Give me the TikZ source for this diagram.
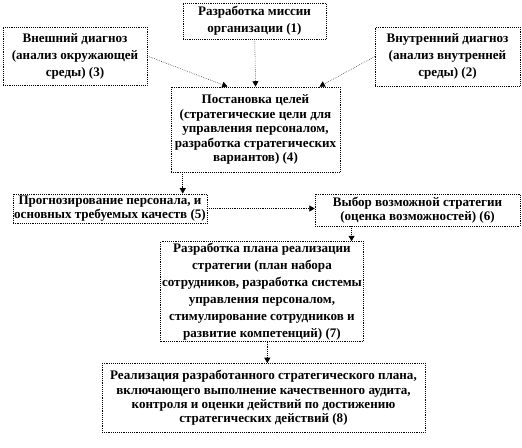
\documentclass[tikz,border=0pt]{standalone}
\usepackage{fontspec}
\setmainfont{Liberation Serif}
\usetikzlibrary{arrows.meta}

\begin{document}
\begin{tikzpicture}[
    x=0.75pt, y=-0.75pt,
    stage/.style={draw, densely dotted, inner sep=1pt, align=center,
                  minimum width=#1*0.75pt,
                  font=\bfseries\fontsize{9.8}{10.8}\selectfont},
    loose/.style={font=\bfseries\fontsize{9.8}{12.8}\selectfont},
    arr/.style={densely dotted, -{Triangle[length=4pt, width=4.5pt]}},
  ]
  \useasboundingbox (0,0) rectangle (522,447);

  \node[stage=143, loose, minimum height=27pt] (mission) at (254.5, 21) {Разработка миссии\\организации (1)};
  \node[stage=144, loose, minimum height=43.5pt] (external) at (75, 56) {Внешний диагноз\\(анализ окружающей\\среды) (3)};
  \node[stage=145, loose, minimum height=44pt] (internal) at (447.5, 56.5) {Внутренний диагноз\\(анализ внутренней\\среды) (2)};
  \node[stage=169, minimum height=64pt] (goals) at (255.5, 129.5) {Постановка целей\\(стратегические цели для\\управления персоналом,\\разработка стратегических\\вариантов) (4)};
  \node[stage=190, minimum height=22pt] (forecast) at (110, 208.5) {Прогнозирование персонала, и\\основных требуемых качеств (5)};
  \node[stage=205, minimum height=24pt] (choice) at (417.5, 210) {Выбор возможной стратегии\\(оценка возможностей) (6)};
  \node[stage=202, loose, minimum height=73pt] (plan) at (262, 291.5) {Разработка плана реализации\\стратегии (план набора\\сотрудников, разработка системы\\управления персоналом,\\стимулирование сотрудников и\\развитие компетенций) (7)};
  \node[stage=323, minimum height=52pt] (realise) at (263.5, 398) {Реализация разработанного стратегического плана,\\включающего выполнение качественного аудита,\\контроля и оценки действий по достижению\\стратегических действий (8)};

  \draw[arr] (mission) -- (goals.north);
  \draw[arr] (external.east) -- ([xshift=-21pt]goals.north);
  \draw[arr] (internal.west) -- ([xshift=48pt]goals.north);
  \draw[arr] ([xshift=9pt]goals.south west) -- ([xshift=9pt]goals.south west |- forecast.north);
  \draw[arr] (forecast.east) -- (forecast.east -| choice.west);
  \draw[arr] ([xshift=-9pt]plan.north east |- choice.south) -- ([xshift=-9pt]plan.north east);
  \draw[arr] ([xshift=4pt]plan.south) -- ([xshift=4pt]plan.south |- realise.north);

\end{tikzpicture}
\end{document}
